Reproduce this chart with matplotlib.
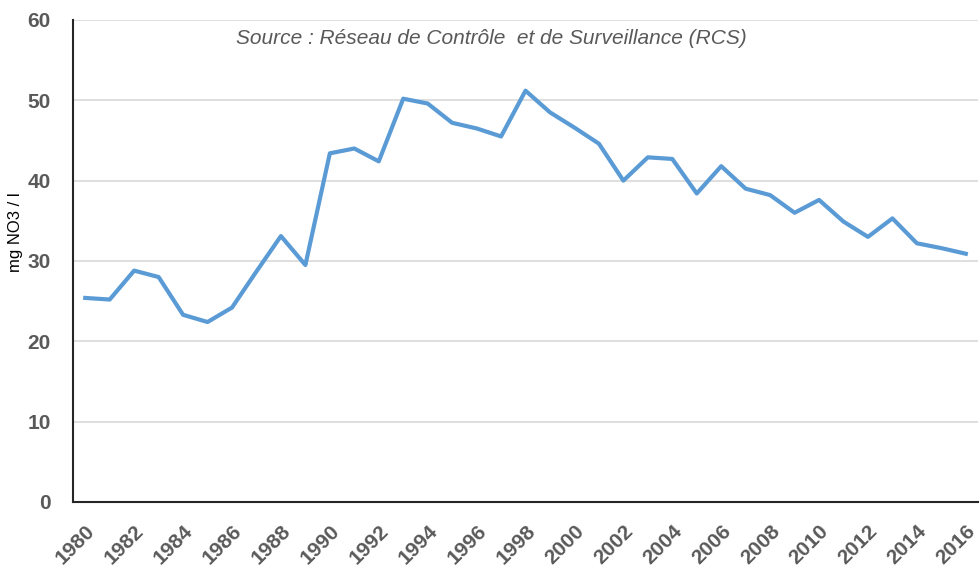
import matplotlib
matplotlib.use('Agg')
import matplotlib.pyplot as plt

# Teneur en nitrates (mg NO3 / l), 1980-2016
years = list(range(1980, 2017))
nitrates = [25.4, 25.2, 28.8, 28.0, 23.3, 22.4, 24.2, 28.7, 33.1, 29.5,
            43.4, 44.0, 42.4, 50.2, 49.6, 47.2, 46.5, 45.5, 51.2, 48.5,
            46.6, 44.6, 40.0, 42.9, 42.7, 38.4, 41.8, 39.0, 38.2, 36.0,
            37.6, 34.9, 33.0, 35.3, 32.2, 31.6, 30.9]
y_ticks = [0, 10, 20, 30, 40, 50, 60]
x_ticks = years[::2]

gray = '#595959'

fig = plt.figure(figsize=(9.8, 5.69), dpi=100, facecolor='white')
ax = fig.add_axes([0.0745, 0.1178, 0.9235, 0.8471])

ax.plot(years, nitrates, color='#5B9BD5', lw=3, solid_joinstyle='round')

ax.set_xlim(years[0] - 0.5, years[-1] + 0.5)
ax.set_ylim(0, 60)
ax.set_yticks(y_ticks)
ax.set_xticks(x_ticks)
ax.set_xticklabels([str(y) for y in x_ticks], rotation=45, ha='right', va='top',
                   rotation_mode='anchor')
ax.tick_params(axis='x', length=0, labelsize=15, labelcolor=gray, pad=14)
ax.tick_params(axis='y', length=0, labelsize=15, labelcolor=gray, pad=16)
for lab in ax.get_xticklabels() + ax.get_yticklabels():
    lab.set_fontweight('bold')
    lab.set_fontfamily('Liberation Sans')

ax.grid(axis='y', color='#D9D9D9', lw=1.2)
ax.set_axisbelow(True)
for side in ['top', 'right']:
    ax.spines[side].set_visible(False)
for side in ['left', 'bottom']:
    ax.spines[side].set_color('#262626')
    ax.spines[side].set_linewidth(1.5)

fig.text(0.016, 0.592, 'mg NO3 / l', rotation=90, ha='center', va='center',
         fontsize=12, family='Liberation Sans', color='black')
ax.text(0.462, 0.962, 'Source : Réseau de Contrôle  et de Surveillance (RCS)',
        transform=ax.transAxes, ha='center', va='center', fontsize=15,
        style='italic', family='Liberation Sans', color=gray)

fig.savefig('out.png', dpi=100)
